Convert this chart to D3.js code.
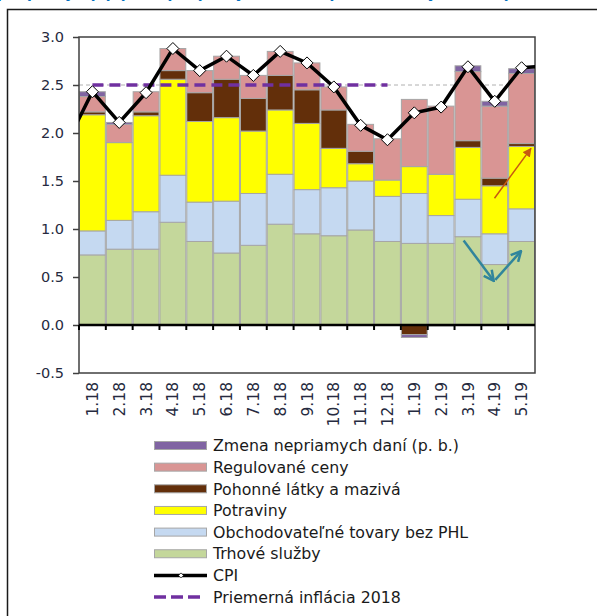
<!DOCTYPE html>
<html>
<head>
<meta charset="utf-8">
<script src="https://cdn.jsdelivr.net/npm/d3@7"></script>
<style>
  body { margin: 0; background: #fff; }
  svg { display: block; font-family: "DejaVu Sans", Verdana, sans-serif; }
</style>
</head>
<body>
<div id="chart"></div>
<script>
// months on the x axis
var months = ["1.18","2.18","3.18","4.18","5.18","6.18","7.18","8.18","9.18","10.18","11.18","12.18",
              "1.19","2.19","3.19","4.19","5.19"];

// contributions (p. b.), bottom to top of the stack
var trhoveSluzby = [0.73,0.79,0.79,1.07,0.87,0.75,0.83,1.05,0.95,0.93,0.99,0.87,0.85,0.85,0.92,0.63,0.87];
var obchodTovary = [0.25,0.30,0.39,0.49,0.41,0.54,0.54,0.52,0.46,0.50,0.51,0.47,0.52,0.29,0.39,0.32,0.34];
var potraviny    = [1.21,0.81,1.00,1.00,0.84,0.87,0.65,0.67,0.69,0.41,0.18,0.17,0.28,0.43,0.54,0.50,0.65];
var pohonne      = [0.03,0.00,0.04,0.09,0.30,0.40,0.34,0.36,0.35,0.40,0.13,0.00,-0.10,0.00,0.07,0.08,0.03];
var regulovane   = [0.16,0.19,0.21,0.23,0.23,0.24,0.24,0.25,0.28,0.24,0.28,0.43,0.70,0.71,0.72,0.75,0.73];
var zmenaDani    = [0.05,0.02,0.00,0.00,0.00,0.00,0.00,0.00,0.00,0.00,0.00,0.00,-0.03,-0.01,0.06,0.05,0.05];

// CPI line, plus the neighbours the line runs in from / out to at the plot edges
var cpi = [2.43,2.11,2.42,2.88,2.65,2.80,2.60,2.85,2.73,2.48,2.08,1.93,2.21,2.27,2.69,2.33,2.68];
var cpiBefore = 1.87, cpiAfter = 2.70;

// average inflation 2018
var avg2018 = 2.5;
var avgMonths = months.slice(0, 12);

var yTicks = [-0.5, 0, 0.5, 1.0, 1.5, 2.0, 2.5, 3.0];

var seriesNames = ["Trhové služby","Obchodovateľné tovary bez PHL","Potraviny",
                   "Pohonné látky a mazivá","Regulované ceny","Zmena nepriamych daní (p. b.)"];
var seriesColors = ["#c4d79b","#c5d9f1","#ffff00","#632f0a","#d99594","#8064a2"];
var seriesData = [trhoveSluzby, obchodTovary, potraviny, pohonne, regulovane, zmenaDani];

// annotation arrows: [month, fraction of band, value]
var tealArrows = [
  {from: ["3.19", 0.34, 0.88], to: ["4.19", 0.46, 0.46]},
  {from: ["4.19", 0.52, 0.47], to: ["5.19", 0.48, 0.77]}
];
var orangeArrow = {from: ["4.19", 0.49, 1.32], to: ["5.19", 0.85, 1.84]};

var width = 597, height = 616;
var plot = {left: 79, right: 535, top: 37, bottom: 373};

var svg = d3.select("#chart").append("svg")
  .attr("width", width)
  .attr("height", height);

// heading, cut off by the top of the picture
svg.append("text")
  .attr("x", -3).attr("y", -2)
  .attr("fill", "#0070c0")
  .style("font-size", "14px")
  .style("font-weight", "bold")
  .text("príspevky (q/q, p. b.) príspevky k inflácii spotrebiteľských cien (p. b.)");

// outer frame
svg.append("rect")
  .attr("x", 7.5).attr("y", 9.5)
  .attr("width", 620).attr("height", 640)
  .attr("fill", "none")
  .attr("stroke", "#1a1a1a")
  .attr("stroke-width", 1.5);

var x = d3.scaleBand().domain(months).range([plot.left, plot.right]).padding(0);
var y = d3.scaleLinear().domain([-0.5, 3.0]).range([plot.bottom, plot.top]);
var bw = x.bandwidth();
function xc(m) { return x(m) + bw / 2; }
function xAt(p) { return x(p[0]) + p[1] * bw; }

// thin gray dashed reference line (behind bars)
svg.append("line")
  .attr("x1", plot.left).attr("x2", plot.right)
  .attr("y1", y(avg2018)).attr("y2", y(avg2018))
  .attr("stroke", "#b0b0b0")
  .attr("stroke-width", 1)
  .attr("stroke-dasharray", "4,3");

// stacked bars
var table = months.map(function(m, i) {
  var row = {month: m};
  seriesNames.forEach(function(s, k) { row[s] = seriesData[k][i]; });
  return row;
});
var stack = d3.stack().keys(seriesNames).offset(d3.stackOffsetDiverging);
var layers = stack(table);

svg.append("g").selectAll("g")
  .data(layers)
  .enter().append("g")
  .attr("fill", function(d, i) { return seriesColors[i]; })
  .selectAll("rect")
  .data(function(d) { return d.filter(function(e) { return e[1] - e[0] !== 0; }); })
  .enter().append("rect")
  .attr("x", function(d) { return x(d.data.month) + 0.5; })
  .attr("width", bw - 1)
  .attr("y", function(d) { return y(Math.max(d[0], d[1])); })
  .attr("height", function(d) { return Math.abs(y(d[0]) - y(d[1])); })
  .attr("stroke", "#a6a6a6")
  .attr("stroke-width", 1);

// plot frame
svg.append("rect")
  .attr("x", plot.left).attr("y", plot.top)
  .attr("width", plot.right - plot.left).attr("height", plot.bottom - plot.top)
  .attr("fill", "none")
  .attr("stroke", "#404040")
  .attr("stroke-width", 1.5);

// y axis
var yAxis = svg.append("g")
  .attr("transform", "translate(" + plot.left + ",0)")
  .call(d3.axisLeft(y).tickValues(yTicks).tickSize(6).tickPadding(9)
    .tickFormat(function(d) { return d.toFixed(1); }));
yAxis.select(".domain").remove();
yAxis.selectAll("line").attr("stroke", "#404040").attr("stroke-width", 1.5);
yAxis.selectAll("text")
  .attr("fill", "#262a40")
  .style("font-size", "14.5px")
  .style("font-family", "'DejaVu Sans', Verdana, sans-serif");

// zero line with ticks between months
svg.append("line")
  .attr("x1", plot.left).attr("x2", plot.right)
  .attr("y1", y(0)).attr("y2", y(0))
  .attr("stroke", "#000").attr("stroke-width", 2.5);
svg.append("g").selectAll("line")
  .data(months)
  .enter().append("line")
  .attr("x1", function(d) { return x(d); }).attr("x2", function(d) { return x(d); })
  .attr("y1", y(0)).attr("y2", y(0) + 5)
  .attr("stroke", "#000").attr("stroke-width", 2);

// month labels
svg.append("g").selectAll("text")
  .data(months)
  .enter().append("text")
  .attr("transform", function(d) { return "translate(" + xc(d) + "," + (plot.bottom + 9) + ") rotate(-90)"; })
  .attr("dy", "0.36em")
  .attr("text-anchor", "end")
  .attr("fill", "#262a40")
  .style("font-size", "15.5px")
  .text(function(d) { return d; });

// clip for lines running off the plot
svg.append("clipPath").attr("id", "clip")
  .append("rect")
  .attr("x", plot.left).attr("y", plot.top)
  .attr("width", plot.right - plot.left).attr("height", plot.bottom - plot.top);

// average 2018 dashed line
svg.append("path")
  .datum(avgMonths)
  .attr("fill", "none")
  .attr("stroke", "#7030a0")
  .attr("stroke-width", 3.5)
  .attr("stroke-dasharray", "11,6")
  .attr("d", d3.line().x(function(d) { return xc(d); }).y(function() { return y(avg2018); }));

// CPI line
var cpiPts = [{x: xc(months[0]) - bw, v: cpiBefore}]
  .concat(months.map(function(m, i) { return {x: xc(m), v: cpi[i]}; }))
  .concat([{x: xc(months[months.length - 1]) + bw, v: cpiAfter}]);
svg.append("path")
  .datum(cpiPts)
  .attr("clip-path", "url(#clip)")
  .attr("fill", "none")
  .attr("stroke", "#000")
  .attr("stroke-width", 3.5)
  .attr("stroke-linejoin", "miter")
  .attr("d", d3.line().x(function(d) { return d.x; }).y(function(d) { return y(d.v); }));

svg.append("g").selectAll("path")
  .data(months)
  .enter().append("path")
  .attr("transform", function(d, i) { return "translate(" + xc(d) + "," + y(cpi[i]) + ")"; })
  .attr("d", "M0,-6L6,0L0,6L-6,0Z")
  .attr("fill", "#fff")
  .attr("stroke", "#000")
  .attr("stroke-width", 1);

// arrowheads
var defs = svg.append("defs");
defs.append("marker").attr("id", "tealHead")
  .attr("viewBox", "0 0 10 10").attr("refX", 9).attr("refY", 5)
  .attr("markerWidth", 5).attr("markerHeight", 5).attr("orient", "auto")
  .append("path").attr("d", "M1,1L9,5L1,9")
  .attr("fill", "none").attr("stroke", "#31859c").attr("stroke-width", 2);
defs.append("marker").attr("id", "orangeHead")
  .attr("viewBox", "0 0 10 10").attr("refX", 9).attr("refY", 5)
  .attr("markerWidth", 9).attr("markerHeight", 9).attr("markerUnits", "userSpaceOnUse")
  .attr("orient", "auto")
  .append("path").attr("d", "M0,0L10,5L0,10Z").attr("fill", "#c65911");

svg.append("g").selectAll("line")
  .data(tealArrows)
  .enter().append("line")
  .attr("x1", function(d) { return xAt(d.from); }).attr("y1", function(d) { return y(d.from[2]); })
  .attr("x2", function(d) { return xAt(d.to); }).attr("y2", function(d) { return y(d.to[2]); })
  .attr("stroke", "#31859c").attr("stroke-width", 2.5)
  .attr("marker-end", "url(#tealHead)");

svg.append("line")
  .attr("x1", xAt(orangeArrow.from)).attr("y1", y(orangeArrow.from[2]))
  .attr("x2", xAt(orangeArrow.to)).attr("y2", y(orangeArrow.to[2]))
  .attr("stroke", "#c65911").attr("stroke-width", 1.5)
  .attr("marker-end", "url(#orangeHead)");

// legend
var legendItems = seriesNames.slice().reverse().map(function(s) {
  return {name: s, type: "bar", color: seriesColors[seriesNames.indexOf(s)]};
}).concat([{name: "CPI", type: "cpi"}, {name: "Priemerná inflácia 2018", type: "avg"}]);

var lg = svg.append("g").selectAll("g")
  .data(legendItems)
  .enter().append("g")
  .attr("transform", function(d, i) { return "translate(154," + (445.5 + i * 21.65) + ")"; });

lg.filter(function(d) { return d.type === "bar"; })
  .append("rect")
  .attr("x", 0.5).attr("y", -4)
  .attr("width", 52).attr("height", 8)
  .attr("fill", function(d) { return d.color; })
  .attr("stroke", "#a6a6a6").attr("stroke-width", 1);

var cpiLg = lg.filter(function(d) { return d.type === "cpi"; });
cpiLg.append("line").attr("x1", 0).attr("x2", 53)
  .attr("stroke", "#000").attr("stroke-width", 3.5);
cpiLg.append("path").attr("transform", "translate(27,0)")
  .attr("d", "M0,-2.5L2.5,0L0,2.5L-2.5,0Z")
  .attr("fill", "#fff").attr("stroke", "#000").attr("stroke-width", 0.7);

lg.filter(function(d) { return d.type === "avg"; })
  .append("line").attr("x1", 0).attr("x2", 50)
  .attr("stroke", "#7030a0").attr("stroke-width", 3.5)
  .attr("stroke-dasharray", "12,5");

lg.append("text")
  .attr("x", 59).attr("dy", "0.36em")
  .attr("fill", "#1a1a1a")
  .style("font-size", "15.8px")
  .text(function(d) { return d.name; });
</script>
</body>
</html>
